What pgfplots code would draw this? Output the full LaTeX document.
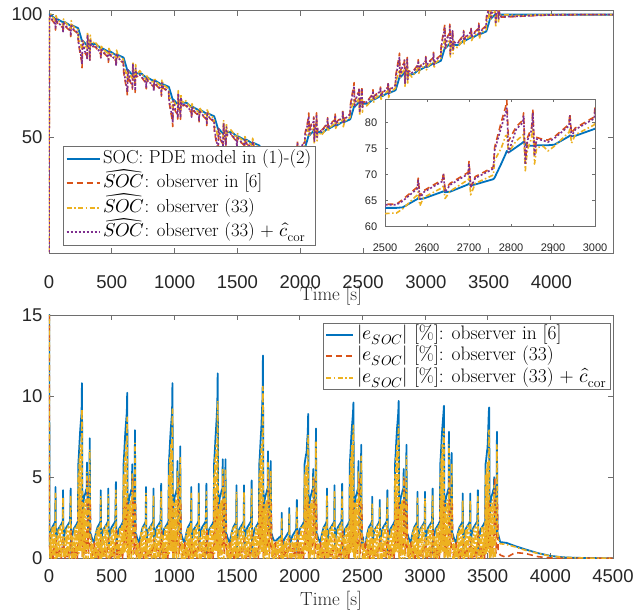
\documentclass[border=0pt]{standalone}
\usepackage{pgfplots}
\pgfplotsset{compat=1.18}
\usepackage{pgfplotstable}
\usepackage{fontspec}
\usepackage{unicode-math}
\setmathfont{Latin Modern Math}
\setsansfont{Liberation Sans}
\definecolor{mblue}{RGB}{0,114,189}
\definecolor{morange}{RGB}{217,83,25}
\definecolor{myellow}{RGB}{237,177,32}
\definecolor{mpurple}{RGB}{126,47,142}
\definecolor{axgray}{RGB}{38,38,38}
\definecolor{framegray}{RGB}{110,110,110}

% top panel: SOC and the three estimates
\pgfplotstableread{
t soc oa ob oc
0 100 3 3 3
3 100 98.2 99.0 98.4
8 100 99.5 99.6 99.6
15 99.9 98.4 100.2 98.7
50 98.3 96.0 97.5 96.3
52 98.1 93.7 96.9 94.1
56 98.3 97.7 99.6 98.3
65 98.2 96.7 98.0 97.0
110 96.9 94.6 96.1 94.9
112 96.8 92.6 95.6 93.0
116 97.0 96.4 98.2 97.0
128 96.9 95.3 96.8 95.6
171 95.5 93.2 94.6 93.5
173 95.3 91.0 93.9 91.4
177 95.7 96.0 97.5 96.1
188 95.5 94.0 95.3 94.3
231 94.5 92.2 93.7 92.5
234 94.2 88.4 90.9 89.0
250 91.5 83.5 88.5 84.5
260 89.7 80.7 86.2 81.9
263 89.1 78.3 86.1 79.9
267 89.4 87.2 89.4 89.4
285 88.4 84.5 87.2 85.0
301 87.5 83.2 86.1 83.7
303 87.3 81.4 85.8 82.0
307 87.9 91.4 92.9 91.7
312 88.1 86.6 88.9 87.1
322 88.1 84.6 86.6 85.1
325 88.1 80.7 84.6 81.4
329 88.1 89.6 91.6 90.1
334 88.0 86.5 88.5 86.8
350 88.0 86.9 88.2 87.1
361 88.0 87.0 89.1 87.4
376 87.9 86.4 88.2 86.7
411 86.3 84.0 85.5 84.3
413 86.1 81.9 84.9 82.3
417 86.3 85.7 87.6 86.3
426 86.2 84.7 86.0 85.0
471 84.9 82.6 84.1 82.9
473 84.8 80.5 83.6 80.9
477 85.0 84.4 86.2 85.0
489 84.9 83.3 84.8 83.6
532 83.5 81.2 82.6 81.5
534 83.3 78.6 81.9 79.1
538 83.7 84.0 85.5 84.1
549 83.5 82.0 83.3 82.3
592 82.5 80.2 81.7 80.5
595 82.2 76.4 78.9 77.0
611 79.5 71.5 76.5 72.5
621 77.7 68.7 74.2 69.9
624 77.1 66.9 74.1 68.4
628 77.4 75.2 77.4 77.4
646 76.4 72.5 75.2 73.0
662 75.5 71.2 74.1 71.7
664 75.3 69.5 73.8 70.1
668 75.9 79.4 80.9 79.7
673 76.1 74.6 76.9 75.1
683 76.1 72.6 74.6 73.1
686 76.1 68.2 72.6 69.0
690 76.1 77.6 79.6 78.1
695 76.0 74.5 76.5 74.8
711 76.0 74.9 76.2 75.1
722 76.0 75.0 77.1 75.4
737 75.9 74.4 76.2 74.7
772 74.3 72.0 73.5 72.3
774 74.1 69.7 72.9 70.1
778 74.3 73.7 75.6 74.3
787 74.2 72.7 74.0 73.0
832 72.9 70.6 72.1 70.9
834 72.8 68.5 71.6 68.9
838 73.0 72.4 74.2 73.0
850 72.9 71.3 72.8 71.6
893 71.5 69.2 70.6 69.5
895 71.3 66.7 69.9 67.2
899 71.7 72.0 73.5 72.1
910 71.5 70.0 71.3 70.3
953 70.5 68.2 69.7 68.5
956 70.2 64.4 66.9 65.0
972 67.5 59.5 64.5 60.5
982 65.7 56.7 62.2 57.9
985 65.1 54.3 62.1 55.9
989 65.4 63.2 65.4 65.4
1007 64.4 60.5 63.2 61.0
1023 63.5 59.2 62.1 59.7
1025 63.3 57.3 61.8 57.9
1029 63.9 67.4 68.9 67.7
1034 64.1 62.6 64.9 63.1
1044 64.1 60.6 62.6 61.1
1047 64.1 57.2 60.6 57.9
1051 64.1 65.6 67.6 66.1
1056 64.0 62.5 64.5 62.8
1072 64.0 62.9 64.2 63.1
1083 64.0 63.0 65.1 63.4
1098 63.9 62.4 64.2 62.7
1133 62.3 60.0 61.5 60.3
1135 62.1 57.7 60.9 58.1
1139 62.3 61.7 63.6 62.3
1148 62.2 60.7 62.0 61.0
1193 60.9 58.6 60.1 58.9
1195 60.8 56.2 59.6 56.7
1199 61.0 60.4 62.2 61.0
1211 60.9 59.3 60.8 59.6
1254 59.5 57.2 58.6 57.5
1256 59.3 54.7 57.9 55.2
1260 59.7 60.0 61.5 60.1
1271 59.5 58.0 59.3 58.3
1314 58.5 56.2 57.7 56.5
1317 58.2 52.4 54.9 53.0
1333 55.5 47.5 52.5 48.5
1343 53.7 44.2 50.2 45.7
1346 53.1 41.7 50.1 43.4
1350 53.4 51.2 53.4 53.4
1368 52.4 48.5 51.2 49.0
1384 51.5 47.2 50.1 47.7
1386 51.3 45.2 49.8 45.8
1390 51.9 55.4 56.9 55.7
1395 52.1 50.6 52.9 51.1
1405 52.1 48.6 50.6 49.1
1408 52.1 46.0 48.6 46.6
1412 52.1 53.6 55.6 54.1
1417 52.0 50.5 52.5 50.8
1433 52.0 50.9 52.2 51.1
1444 52.0 51.0 53.1 51.4
1459 51.9 50.4 52.2 50.7
1494 50.3 48.0 49.5 48.3
1496 50.1 45.6 48.9 46.0
1500 50.3 49.7 51.6 50.3
1509 50.2 48.7 50.0 49.0
1554 48.9 46.6 48.1 46.9
1556 48.8 44.3 47.6 44.7
1560 49.0 48.4 50.2 49.0
1572 48.9 47.3 48.8 47.6
1615 47.5 45.2 46.6 45.5
1617 47.3 42.5 45.9 43.0
1621 47.7 48.0 49.5 48.1
1632 47.5 46.0 47.3 46.3
1675 46.5 44.2 45.7 44.5
1678 46.2 40.4 42.9 41.0
1694 43.5 35.5 40.5 36.5
1704 41.7 31.7 38.2 33.1
1707 41.1 28.6 38.1 30.5
1711 41.4 39.2 41.4 41.4
1729 40.4 36.5 39.2 37.0
1745 39.5 35.2 38.1 35.7
1747 39.3 32.7 37.8 33.4
1751 39.9 43.4 44.9 43.7
1756 40.1 38.6 40.9 39.1
1766 40.1 36.6 38.6 37.1
1769 40.1 34.1 36.6 34.7
1773 40.1 41.6 43.6 42.1
1778 40.0 38.5 40.5 38.8
1794 40.0 38.9 40.2 39.1
1805 40.0 41.1 38.9 40.6
1820 40.1 41.2 39.8 41.0
1855 41.7 43.1 42.5 42.9
1857 41.9 44.7 43.1 44.4
1861 41.7 42.3 40.4 41.7
1870 41.8 42.9 42.0 42.7
1915 43.1 44.7 43.9 44.5
1917 43.2 46.3 44.4 46.0
1921 43.0 43.6 41.8 43.0
1933 43.1 44.3 43.2 44.1
1976 44.5 46.3 45.4 46.1
1978 44.7 48.3 46.1 47.9
1982 44.3 44.0 42.5 43.9
1993 44.5 46.0 44.7 45.7
2036 45.5 47.8 46.3 47.5
2039 45.8 51.6 49.1 51.0
2055 48.5 55.0 51.5 54.3
2065 50.3 58.1 53.8 57.1
2068 50.9 59.8 53.9 58.5
2072 50.6 52.8 50.6 50.6
2090 51.6 55.5 52.8 55.0
2106 52.5 56.8 53.9 56.3
2108 52.7 58.2 54.2 57.7
2112 52.1 48.6 47.1 48.3
2117 51.9 53.4 51.1 52.9
2127 51.9 55.4 53.4 54.9
2130 51.9 59.9 55.4 59.1
2134 51.9 50.4 48.4 49.9
2139 52.0 53.5 51.5 53.2
2155 52.0 53.1 51.8 52.9
2166 51.7 52.7 50.6 52.3
2181 51.8 53.3 51.5 53.0
2216 53.4 55.7 54.2 55.4
2218 53.6 57.9 54.8 57.5
2222 53.4 54.0 52.1 53.4
2231 53.5 55.0 53.7 54.7
2276 54.8 57.1 55.6 56.8
2278 54.9 59.4 56.1 59.0
2282 54.7 55.3 53.5 54.7
2294 54.8 56.4 54.9 56.1
2337 56.2 58.5 57.1 58.2
2339 56.4 61.0 57.8 60.5
2343 56.0 55.7 54.2 55.6
2354 56.2 57.7 56.4 57.4
2397 57.2 59.5 58.0 59.2
2400 57.5 63.3 60.8 62.7
2416 60.2 68.2 63.2 67.2
2426 62.0 71.0 65.5 69.8
2429 62.6 72.2 65.6 70.8
2433 62.3 64.5 62.3 62.3
2451 63.3 67.2 64.5 66.7
2467 64.2 68.5 65.6 68.0
2469 64.4 70.4 65.9 69.8
2473 63.8 60.3 58.8 60.0
2478 63.6 65.1 62.8 64.6
2488 63.6 67.1 65.1 66.6
2491 63.6 70.6 67.1 69.9
2495 63.6 62.1 60.1 61.6
2500 63.6 64.3 62.5 64.2
2516 63.6 64.3 62.6 64.2
2527 63.6 64.3 62.6 64.2
2542 63.7 65.2 63.4 64.9
2577 65.3 67.6 66.1 67.3
2579 65.5 69.3 66.7 68.9
2583 65.3 65.9 64.0 65.3
2592 65.4 66.9 65.6 66.6
2637 66.7 69.0 67.5 68.7
2639 66.8 70.4 68.0 70.0
2643 66.6 67.2 65.4 66.6
2655 66.7 68.3 66.8 68.0
2698 68.1 70.4 69.0 70.1
2700 68.3 72.5 69.7 72.1
2704 67.9 67.6 66.1 67.5
2715 68.1 69.6 68.3 69.3
2758 69.1 71.4 69.9 71.1
2761 69.4 75.2 72.7 74.6
2777 72.1 80.1 75.1 79.1
2787 73.9 82.9 77.4 81.7
2790 74.5 84.2 77.5 82.7
2794 74.2 76.4 74.2 74.2
2812 75.2 79.1 76.4 78.6
2828 76.1 80.4 77.5 79.9
2830 76.3 81.8 77.8 81.3
2834 75.7 72.2 70.7 71.9
2839 75.5 77.0 74.7 76.5
2849 75.5 79.0 77.0 78.5
2852 75.5 82.5 79.0 81.8
2856 75.5 74.0 72.0 73.5
2861 75.6 77.1 75.1 76.8
2877 75.6 76.7 75.4 76.5
2888 75.6 76.6 74.5 76.2
2903 75.7 77.2 75.4 76.9
2938 77.3 79.6 78.1 79.3
2940 77.5 81.6 78.7 81.2
2944 77.3 77.9 76.0 77.3
2953 77.4 78.9 77.6 78.6
2998 78.7 81.0 79.5 80.7
3000 78.8 82.9 80.0 82.5
3004 78.6 79.2 77.4 78.6
3016 78.7 80.3 78.8 80.0
3059 80.1 82.4 81.0 82.1
3061 80.3 84.6 81.7 84.2
3065 79.9 79.6 78.1 79.5
3076 80.1 81.6 80.3 81.3
3119 81.1 83.4 81.9 83.1
3122 81.4 87.2 84.7 86.6
3138 84.1 92.1 87.1 91.1
3148 85.9 94.9 89.4 93.7
3151 86.5 95.9 89.5 94.5
3155 86.2 88.4 86.2 86.2
3173 87.2 91.1 88.4 90.6
3189 88.1 92.4 89.5 91.9
3191 88.3 96.1 89.8 95.3
3195 87.7 84.2 82.7 83.9
3200 87.5 89.0 86.7 88.5
3210 87.5 91.0 89.0 90.5
3213 87.5 94.0 91.0 93.4
3217 87.5 86.0 84.0 85.5
3222 87.6 89.1 87.1 88.8
3238 87.6 88.7 87.4 88.5
3249 87.6 88.6 86.5 88.2
3264 87.7 89.2 87.4 88.9
3299 89.3 91.6 90.1 91.3
3301 89.5 93.5 90.7 93.1
3305 89.3 89.9 88.0 89.3
3314 89.4 90.9 89.6 90.6
3359 90.7 93.0 91.5 92.7
3361 90.8 94.8 92.0 94.4
3365 90.6 91.2 89.4 90.6
3377 90.7 92.3 90.8 92.0
3420 92.1 94.4 93.0 94.1
3422 92.3 96.5 93.7 96.1
3426 91.9 91.6 90.1 91.5
3437 92.1 93.6 92.3 93.3
3480 93.1 95.4 93.9 95.1
3483 93.4 99.2 96.7 98.6
3499 96.1 102.9 99.1 102.1
3509 97.9 106.9 101.4 105.7
3512 98.5 107.8 101.5 106.4
3516 98.2 100.4 98.2 98.2
3534 99.2 103.1 100.4 102.6
3550 99.9 104.2 101.3 103.7
3552 100.0 105.0 101.5 104.5
3556 100.0 96.5 95.0 96.2
3561 100.0 101.5 99.2 101.0
3571 100.0 103.5 101.5 103.0
3574 100.0 107.8 103.5 107.0
3578 100.0 98.5 96.5 98.0
3583 100.0 101.5 99.5 101.2
3600 100 99.0 99.8 99.1
3650 100 99.05 99.95 99.15
3720 100 99.25 99.65 99.3
3800 100 99.45 99.7 99.5
3900 100 99.68 99.9 99.7
4000 100 99.85 99.98 99.86
4100 100 99.94 100 99.94
4200 100 99.97 100 99.97
4350 100 99.99 100 99.99
4500 100 100 100 100
}\topdata

% bottom panel: absolute SOC errors
\pgfplotstableread{
t ea eb ec
0 97 97 97
3 1.8 1.0 1.6
8 0.5 0.4 0.0
12 1.5 0.6 1.6
18 1.7 0.1 0.0
25 1.9 0.5 1.9
32 2.0 0.0 0.2
40 2.1 0.6 2.0
46 2.2 0.2 0.0
50 2.3 0.8 2.1
52 4.4 1.2 4.0
56 0.6 1.3 0.0
60 1.3 0.3 1.2
66 1.6 0.0 0.0
74 1.8 0.6 1.8
82 1.9 0.1 0.1
90 2.0 0.6 2.0
98 2.1 0.0 0.0
105 2.2 0.7 2.1
110 2.3 0.8 2.0
112 4.2 1.2 3.8
116 0.6 1.2 0.0
122 1.4 0.2 1.3
130 1.7 0.0 0.0
138 1.9 0.6 1.8
146 2.0 0.1 0.1
154 2.1 0.6 2.0
162 2.2 0.0 0.0
168 2.3 0.8 2.1
173 4.3 1.4 3.9
177 0.3 1.8 0.4
182 1.2 0.2 0.0
188 1.5 0.6 1.4
196 1.8 0.0 0.0
204 1.9 0.6 1.9
212 2.0 0.1 0.0
220 2.1 0.7 2.0
226 2.2 0.0 0.2
231 2.3 0.8 2.0
234 5.8 3.3 5.2
238 6.3 0.5 0.3
242 6.9 3.8 6.2
246 7.5 1.0 0.5
250 8.0 3.0 7.0
255 8.5 0.8 0.4
260 9.0 3.5 7.8
263 10.8 3.0 9.2
267 2.2 0.0 0.0
272 3.3 1.5 3.0
277 3.6 0.2 0.0
281 3.8 1.2 3.4
285 3.9 0.4 0.3
290 4.0 1.3 3.6
295 4.2 0.3 0.0
301 4.3 1.4 3.8
303 5.9 1.5 5.3
307 3.5 5.0 3.8
312 1.5 0.8 0.0
317 2.8 0.3 2.6
322 3.5 1.5 3.0
325 7.4 3.5 6.7
329 1.5 3.5 2.0
334 1.5 0.5 0.0
340 1.3 0.1 1.1
345 1.2 0.5 0.0
350 1.1 0.2 0.9
356 1.0 0.6 0.0
361 1.0 1.1 0.6
367 1.3 0.2 0.0
373 1.5 0.6 1.6
379 1.7 0.1 0.0
386 1.9 0.5 1.9
393 2.0 0.0 0.2
401 2.1 0.6 2.0
407 2.2 0.2 0.0
411 2.3 0.8 2.1
413 4.2 1.2 3.8
417 0.6 1.3 0.0
421 1.3 0.3 1.2
427 1.6 0.0 0.0
435 1.8 0.6 1.8
443 1.9 0.1 0.1
451 2.0 0.6 2.0
459 2.1 0.0 0.0
466 2.2 0.7 2.1
471 2.3 0.8 2.0
473 4.3 1.2 3.9
477 0.6 1.2 0.0
483 1.4 0.2 1.3
491 1.7 0.0 0.0
499 1.9 0.6 1.8
507 2.0 0.1 0.1
515 2.1 0.6 2.0
523 2.2 0.0 0.0
529 2.3 0.8 2.1
534 4.7 1.4 4.2
538 0.3 1.8 0.4
543 1.2 0.2 0.0
549 1.5 0.6 1.4
557 1.8 0.0 0.0
565 1.9 0.6 1.9
573 2.0 0.1 0.0
581 2.1 0.7 2.0
587 2.2 0.0 0.2
592 2.3 0.8 2.0
595 5.8 3.3 5.2
599 6.3 0.5 0.3
603 6.9 3.8 6.2
607 7.5 1.0 0.5
611 8.0 3.0 7.0
616 8.5 0.8 0.4
621 9.0 3.5 7.8
624 10.2 3.0 8.7
628 2.2 0.0 0.0
633 3.3 1.5 3.0
638 3.6 0.2 0.0
642 3.8 1.2 3.4
646 3.9 0.4 0.3
651 4.0 1.3 3.6
656 4.2 0.3 0.0
662 4.3 1.4 3.8
664 5.8 1.5 5.2
668 3.5 5.0 3.8
673 1.5 0.8 0.0
678 2.8 0.3 2.6
683 3.5 1.5 3.0
686 7.9 3.5 7.1
690 1.5 3.5 2.0
695 1.5 0.5 0.0
701 1.3 0.1 1.1
706 1.2 0.5 0.0
711 1.1 0.2 0.9
717 1.0 0.6 0.0
722 1.0 1.1 0.6
728 1.3 0.2 0.0
734 1.5 0.6 1.6
740 1.7 0.1 0.0
747 1.9 0.5 1.9
754 2.0 0.0 0.2
762 2.1 0.6 2.0
768 2.2 0.2 0.0
772 2.3 0.8 2.1
774 4.4 1.2 4.0
778 0.6 1.3 0.0
782 1.3 0.3 1.2
788 1.6 0.0 0.0
796 1.8 0.6 1.8
804 1.9 0.1 0.1
812 2.0 0.6 2.0
820 2.1 0.0 0.0
827 2.2 0.7 2.1
832 2.3 0.8 2.0
834 4.3 1.2 3.9
838 0.6 1.2 0.0
844 1.4 0.2 1.3
852 1.7 0.0 0.0
860 1.9 0.6 1.8
868 2.0 0.1 0.1
876 2.1 0.6 2.0
884 2.2 0.0 0.0
890 2.3 0.8 2.1
895 4.6 1.4 4.1
899 0.3 1.8 0.4
904 1.2 0.2 0.0
910 1.5 0.6 1.4
918 1.8 0.0 0.0
926 1.9 0.6 1.9
934 2.0 0.1 0.0
942 2.1 0.7 2.0
948 2.2 0.0 0.2
953 2.3 0.8 2.0
956 5.8 3.3 5.2
960 6.3 0.5 0.3
964 6.9 3.8 6.2
968 7.5 1.0 0.5
972 8.0 3.0 7.0
977 8.5 0.8 0.4
982 9.0 3.5 7.8
985 10.8 3.0 9.2
989 2.2 0.0 0.0
994 3.3 1.5 3.0
999 3.6 0.2 0.0
1003 3.8 1.2 3.4
1007 3.9 0.4 0.3
1012 4.0 1.3 3.6
1017 4.2 0.3 0.0
1023 4.3 1.4 3.8
1025 6.0 1.5 5.4
1029 3.5 5.0 3.8
1034 1.5 0.8 0.0
1039 2.8 0.3 2.6
1044 3.5 1.5 3.0
1047 6.9 3.5 6.2
1051 1.5 3.5 2.0
1056 1.5 0.5 0.0
1062 1.3 0.1 1.1
1067 1.2 0.5 0.0
1072 1.1 0.2 0.9
1078 1.0 0.6 0.0
1083 1.0 1.1 0.6
1089 1.3 0.2 0.0
1095 1.5 0.6 1.6
1101 1.7 0.1 0.0
1108 1.9 0.5 1.9
1115 2.0 0.0 0.2
1123 2.1 0.6 2.0
1129 2.2 0.2 0.0
1133 2.3 0.8 2.1
1135 4.4 1.2 4.0
1139 0.6 1.3 0.0
1143 1.3 0.3 1.2
1149 1.6 0.0 0.0
1157 1.8 0.6 1.8
1165 1.9 0.1 0.1
1173 2.0 0.6 2.0
1181 2.1 0.0 0.0
1188 2.2 0.7 2.1
1193 2.3 0.8 2.0
1195 4.6 1.2 4.1
1199 0.6 1.2 0.0
1205 1.4 0.2 1.3
1213 1.7 0.0 0.0
1221 1.9 0.6 1.8
1229 2.0 0.1 0.1
1237 2.1 0.6 2.0
1245 2.2 0.0 0.0
1251 2.3 0.8 2.1
1256 4.6 1.4 4.1
1260 0.3 1.8 0.4
1265 1.2 0.2 0.0
1271 1.5 0.6 1.4
1279 1.8 0.0 0.0
1287 1.9 0.6 1.9
1295 2.0 0.1 0.0
1303 2.1 0.7 2.0
1309 2.2 0.0 0.2
1314 2.3 0.8 2.0
1317 5.8 3.3 5.2
1321 6.3 0.5 0.3
1325 6.9 3.8 6.2
1329 7.5 1.0 0.5
1333 8.0 3.0 7.0
1338 8.7 0.8 0.4
1343 9.5 3.5 8.0
1346 11.4 3.0 9.7
1350 2.2 0.0 0.0
1355 3.3 1.5 3.0
1360 3.6 0.2 0.0
1364 3.8 1.2 3.4
1368 3.9 0.4 0.3
1373 4.0 1.3 3.6
1378 4.2 0.3 0.0
1384 4.3 1.4 3.8
1386 6.1 1.5 5.5
1390 3.5 5.0 3.8
1395 1.5 0.8 0.0
1400 2.8 0.3 2.6
1405 3.5 1.5 3.0
1408 6.1 3.5 5.5
1412 1.5 3.5 2.0
1417 1.5 0.5 0.0
1423 1.3 0.1 1.1
1428 1.2 0.5 0.0
1433 1.1 0.2 0.9
1439 1.0 0.6 0.0
1444 1.0 1.1 0.6
1450 1.3 0.2 0.0
1456 1.5 0.6 1.6
1462 1.7 0.1 0.0
1469 1.9 0.5 1.9
1476 2.0 0.0 0.2
1484 2.1 0.6 2.0
1490 2.2 0.2 0.0
1494 2.3 0.8 2.1
1496 4.5 1.2 4.1
1500 0.6 1.3 0.0
1504 1.3 0.3 1.2
1510 1.6 0.0 0.0
1518 1.8 0.6 1.8
1526 1.9 0.1 0.1
1534 2.0 0.6 2.0
1542 2.1 0.0 0.0
1549 2.2 0.7 2.1
1554 2.3 0.8 2.0
1556 4.5 1.2 4.1
1560 0.6 1.2 0.0
1566 1.4 0.2 1.3
1574 1.7 0.0 0.0
1582 1.9 0.6 1.8
1590 2.0 0.1 0.1
1598 2.1 0.6 2.0
1606 2.2 0.0 0.0
1612 2.3 0.8 2.1
1617 4.8 1.4 4.3
1621 0.3 1.8 0.4
1626 1.2 0.2 0.0
1632 1.5 0.6 1.4
1640 1.8 0.0 0.0
1648 1.9 0.6 1.9
1656 2.0 0.1 0.0
1664 2.1 0.7 2.0
1670 2.2 0.0 0.2
1675 2.3 0.8 2.0
1678 5.8 3.3 5.2
1682 6.3 0.5 0.3
1686 6.9 3.8 6.2
1690 7.5 1.0 0.5
1694 8.0 3.0 7.0
1699 9.0 0.8 0.4
1704 10.0 3.5 8.6
1707 12.5 3.0 10.6
1711 2.2 0.0 0.0
1716 3.3 1.5 3.0
1721 3.6 0.2 0.0
1725 3.8 1.2 3.4
1729 3.9 0.4 0.3
1734 4.0 1.3 3.6
1739 4.2 0.3 0.0
1745 4.3 1.4 3.8
1747 6.6 1.5 5.9
1751 3.5 5.0 3.8
1756 1.5 0.8 0.0
1761 2.8 0.3 2.6
1766 3.5 1.5 3.0
1769 6.0 3.5 5.4
1773 1.5 3.5 2.0
1778 1.5 0.5 0.0
1784 1.3 0.1 1.1
1789 1.2 0.5 0.0
1794 1.1 0.2 0.9
1800 1.1 0.6 0.0
1805 1.1 1.1 0.6
1811 1.1 0.2 0.0
1817 1.1 0.6 1.0
1823 1.2 0.1 0.0
1830 1.2 0.5 1.1
1837 1.3 0.0 0.1
1845 1.3 0.6 1.2
1851 1.4 0.2 0.0
1855 1.4 0.8 1.3
1857 2.8 1.2 2.5
1861 0.6 1.3 0.0
1865 0.9 0.3 0.8
1871 1.0 0.0 0.0
1879 1.2 0.6 1.1
1887 1.3 0.1 0.1
1895 1.4 0.6 1.2
1903 1.5 0.0 0.0
1910 1.6 0.7 1.4
1915 1.6 0.8 1.4
1917 3.1 1.2 2.8
1921 0.6 1.2 0.0
1927 1.0 0.2 0.9
1935 1.2 0.0 0.0
1943 1.4 0.6 1.2
1951 1.5 0.1 0.1
1959 1.6 0.6 1.4
1967 1.7 0.0 0.0
1973 1.8 0.8 1.6
1978 3.6 1.4 3.2
1982 0.3 1.8 0.4
1987 1.2 0.2 0.0
1993 1.5 0.6 1.4
2001 1.8 0.0 0.0
2009 1.9 0.6 1.9
2017 2.0 0.1 0.0
2025 2.1 0.7 2.0
2031 2.2 0.0 0.2
2036 2.3 0.8 2.0
2039 5.8 3.3 5.2
2043 6.0 0.5 0.3
2047 6.2 3.8 5.6
2051 6.4 1.0 0.5
2055 6.5 3.0 5.8
2060 7.2 0.8 0.4
2065 7.8 3.5 6.8
2068 8.9 3.0 7.6
2072 2.2 0.0 0.0
2077 3.3 1.5 3.0
2082 3.6 0.2 0.0
2086 3.8 1.2 3.4
2090 3.9 0.4 0.3
2095 4.0 1.3 3.6
2100 4.2 0.3 0.0
2106 4.3 1.4 3.8
2108 5.5 1.5 5.0
2112 3.5 5.0 3.8
2117 1.5 0.8 0.0
2122 2.8 0.3 2.6
2127 3.5 1.5 3.0
2130 8.0 3.5 7.2
2134 1.5 3.5 2.0
2139 1.5 0.5 0.0
2145 1.3 0.1 1.1
2150 1.2 0.5 0.0
2155 1.1 0.2 0.9
2161 1.0 0.6 0.0
2166 1.0 1.1 0.6
2172 1.3 0.2 0.0
2178 1.5 0.6 1.6
2184 1.7 0.1 0.0
2191 1.9 0.5 1.9
2198 2.0 0.0 0.2
2206 2.1 0.6 2.0
2212 2.2 0.2 0.0
2216 2.3 0.8 2.1
2218 4.3 1.2 3.9
2222 0.6 1.3 0.0
2226 1.3 0.3 1.2
2232 1.6 0.0 0.0
2240 1.8 0.6 1.8
2248 1.9 0.1 0.1
2256 2.0 0.6 2.0
2264 2.1 0.0 0.0
2271 2.2 0.7 2.1
2276 2.3 0.8 2.0
2278 4.5 1.2 4.1
2282 0.6 1.2 0.0
2288 1.4 0.2 1.3
2296 1.7 0.0 0.0
2304 1.9 0.6 1.8
2312 2.0 0.1 0.1
2320 2.1 0.6 2.0
2328 2.2 0.0 0.0
2334 2.3 0.8 2.1
2339 4.6 1.4 4.1
2343 0.3 1.8 0.4
2348 1.2 0.2 0.0
2354 1.5 0.6 1.4
2362 1.8 0.0 0.0
2370 1.9 0.6 1.9
2378 2.0 0.1 0.0
2386 2.1 0.7 2.0
2392 2.2 0.0 0.2
2397 2.3 0.8 2.0
2400 5.8 3.3 5.2
2404 6.3 0.5 0.3
2408 6.9 3.8 6.2
2412 7.5 1.0 0.5
2416 8.0 3.0 7.0
2421 8.5 0.8 0.4
2426 9.0 3.5 7.8
2429 9.6 3.0 8.2
2433 2.2 0.0 0.0
2438 3.3 1.5 3.0
2443 3.6 0.2 0.0
2447 3.8 1.2 3.4
2451 3.9 0.4 0.3
2456 4.0 1.3 3.6
2461 4.2 0.3 0.0
2467 4.3 1.4 3.8
2469 6.0 1.5 5.4
2473 3.5 5.0 3.8
2478 1.5 0.8 0.0
2483 2.8 0.3 2.6
2488 3.5 1.5 3.0
2491 7.0 3.5 6.3
2495 1.5 3.5 2.0
2500 0.7 1.1 0.0
2506 1.3 0.1 1.1
2511 0.7 0.5 0.0
2516 0.7 1.0 0.6
2522 0.7 0.6 0.0
2527 0.7 1.0 0.6
2533 1.3 0.2 0.0
2539 1.5 0.6 1.6
2545 1.7 0.1 0.0
2552 1.9 0.5 1.9
2559 2.0 0.0 0.2
2567 2.1 0.6 2.0
2573 2.2 0.2 0.0
2577 2.3 0.8 2.1
2579 3.8 1.2 3.4
2583 0.6 1.3 0.0
2587 1.3 0.3 1.2
2593 1.6 0.0 0.0
2601 1.8 0.6 1.8
2609 1.9 0.1 0.1
2617 2.0 0.6 2.0
2625 2.1 0.0 0.0
2632 2.2 0.7 2.1
2637 2.3 0.8 2.0
2639 3.6 1.2 3.2
2643 0.6 1.2 0.0
2649 1.4 0.2 1.3
2657 1.7 0.0 0.0
2665 1.9 0.6 1.8
2673 2.0 0.1 0.1
2681 2.1 0.6 2.0
2689 2.2 0.0 0.0
2695 2.3 0.8 2.1
2700 4.2 1.4 3.8
2704 0.3 1.8 0.4
2709 1.2 0.2 0.0
2715 1.5 0.6 1.4
2723 1.8 0.0 0.0
2731 1.9 0.6 1.9
2739 2.0 0.1 0.0
2747 2.1 0.7 2.0
2753 2.2 0.0 0.2
2758 2.3 0.8 2.0
2761 5.8 3.3 5.2
2765 6.3 0.5 0.3
2769 6.9 3.8 6.2
2773 7.5 1.0 0.5
2777 8.0 3.0 7.0
2782 8.5 0.8 0.4
2787 9.0 3.5 7.8
2790 9.7 3.0 8.2
2794 2.2 0.0 0.0
2799 3.3 1.5 3.0
2804 3.6 0.2 0.0
2808 3.8 1.2 3.4
2812 3.9 0.4 0.3
2817 4.0 1.3 3.6
2822 4.2 0.3 0.0
2828 4.3 1.4 3.8
2830 5.5 1.5 5.0
2834 3.5 5.0 3.8
2839 1.5 0.8 0.0
2844 2.8 0.3 2.6
2849 3.5 1.5 3.0
2852 7.0 3.5 6.3
2856 1.5 3.5 2.0
2861 1.5 0.5 0.0
2867 1.3 0.1 1.1
2872 1.2 0.5 0.0
2877 1.1 0.2 0.9
2883 1.0 0.6 0.0
2888 1.0 1.1 0.6
2894 1.3 0.2 0.0
2900 1.5 0.6 1.6
2906 1.7 0.1 0.0
2913 1.9 0.5 1.9
2920 2.0 0.0 0.2
2928 2.1 0.6 2.0
2934 2.2 0.2 0.0
2938 2.3 0.8 2.1
2940 4.1 1.2 3.7
2944 0.6 1.3 0.0
2948 1.3 0.3 1.2
2954 1.6 0.0 0.0
2962 1.8 0.6 1.8
2970 1.9 0.1 0.1
2978 2.0 0.6 2.0
2986 2.1 0.0 0.0
2993 2.2 0.7 2.1
2998 2.3 0.8 2.0
3000 4.1 1.2 3.7
3004 0.6 1.2 0.0
3010 1.4 0.2 1.3
3018 1.7 0.0 0.0
3026 1.9 0.6 1.8
3034 2.0 0.1 0.1
3042 2.1 0.6 2.0
3050 2.2 0.0 0.0
3056 2.3 0.8 2.1
3061 4.3 1.4 3.9
3065 0.3 1.8 0.4
3070 1.2 0.2 0.0
3076 1.5 0.6 1.4
3084 1.8 0.0 0.0
3092 1.9 0.6 1.9
3100 2.0 0.1 0.0
3108 2.1 0.7 2.0
3114 2.2 0.0 0.2
3119 2.3 0.8 2.0
3122 5.8 3.3 5.2
3126 6.3 0.5 0.3
3130 6.9 3.8 6.2
3134 7.5 1.0 0.5
3138 8.0 3.0 7.0
3143 8.5 0.8 0.4
3148 9.0 3.5 7.8
3151 9.4 3.0 8.0
3155 2.2 0.0 0.0
3160 3.3 1.5 3.0
3165 3.6 0.2 0.0
3169 3.8 1.2 3.4
3173 3.9 0.4 0.3
3178 4.0 1.3 3.6
3183 4.2 0.3 0.0
3189 4.3 1.4 3.8
3191 7.8 1.5 7.0
3195 3.5 5.0 3.8
3200 1.5 0.8 0.0
3205 2.8 0.3 2.6
3210 3.5 1.5 3.0
3213 6.5 3.5 5.9
3217 1.5 3.5 2.0
3222 1.5 0.5 0.0
3228 1.3 0.1 1.1
3233 1.2 0.5 0.0
3238 1.1 0.2 0.9
3244 1.0 0.6 0.0
3249 1.0 1.1 0.6
3255 1.3 0.2 0.0
3261 1.5 0.6 1.6
3267 1.7 0.1 0.0
3274 1.9 0.5 1.9
3281 2.0 0.0 0.2
3289 2.1 0.6 2.0
3295 2.2 0.2 0.0
3299 2.3 0.8 2.1
3301 4.0 1.2 3.6
3305 0.6 1.3 0.0
3309 1.3 0.3 1.2
3315 1.6 0.0 0.0
3323 1.8 0.6 1.8
3331 1.9 0.1 0.1
3339 2.0 0.6 2.0
3347 2.1 0.0 0.0
3354 2.2 0.7 2.1
3359 2.3 0.8 2.0
3361 4.0 1.2 3.6
3365 0.6 1.2 0.0
3371 1.4 0.2 1.3
3379 1.7 0.0 0.0
3387 1.9 0.6 1.8
3395 2.0 0.1 0.1
3403 2.1 0.6 2.0
3411 2.2 0.0 0.0
3417 2.3 0.8 2.1
3422 4.2 1.4 3.8
3426 0.3 1.8 0.4
3431 1.2 0.2 0.0
3437 1.5 0.6 1.4
3445 1.8 0.0 0.0
3453 1.9 0.6 1.9
3461 2.0 0.1 0.0
3469 2.1 0.7 2.0
3475 2.2 0.0 0.2
3480 2.3 0.8 2.0
3483 5.8 3.3 5.2
3487 6.0 0.5 0.3
3491 6.3 3.8 5.6
3495 6.6 1.0 0.5
3499 6.8 3.0 6.0
3504 7.8 0.8 0.4
3509 9.0 3.5 7.8
3512 9.3 3.0 7.9
3516 2.2 0.0 0.0
3521 3.3 1.5 3.0
3526 3.6 0.2 0.0
3530 3.8 1.2 3.4
3534 3.9 0.4 0.3
3539 4.0 1.3 3.6
3544 4.2 0.3 0.0
3550 4.3 1.4 3.8
3552 5.0 1.5 4.5
3556 3.5 5.0 3.8
3561 1.5 0.8 0.0
3566 2.8 0.3 2.6
3571 3.5 1.5 3.0
3574 7.8 3.5 7.0
3578 1.5 3.5 2.0
3583 1.5 0.5 1.2
3600 1.0 0.2 0.9
3650 0.95 0.05 0.85
3720 0.75 0.35 0.7
3800 0.55 0.3 0.5
3900 0.32 0.1 0.3
4000 0.15 0.02 0.14
4100 0.06 0.0 0.06
4200 0.03 0.0 0.03
4350 0.01 0.0 0.01
4500 0.0 0.0 0.0
}\botdata

\pgfplotsset{
  matlab/.style={
    scale only axis,
    axis line style={framegray, line width=0.8pt},
    tick style={framegray, line width=0.8pt},
    tick align=inside,
    xtick pos=both, ytick pos=both,
    xticklabel pos=bottom, yticklabel pos=left,
    major tick length=5pt,
    tick label style={font=\fontsize{18.5}{22}\selectfont\sffamily, text=axgray},
    /pgf/number format/assume math mode=true,
    /pgf/number format/1000 sep={},
    xticklabel style={yshift=-7.5pt},
    yticklabel style={xshift=-3pt},
    xlabel style={font=\fontsize{19}{23}\selectfont, text=axgray,
      at={(axis description cs:0.5,0)}, anchor=north, yshift=-29pt},
    legend cell align=left,
    every axis plot/.append style={line join=round},
  },
}

\begin{document}
\begin{tikzpicture}
\useasboundingbox (0,0) rectangle (640pt,612pt);

% ---------- top axis ----------
\begin{axis}[matlab,
  at={(49pt,358.7pt)}, anchor=south west,
  width=564pt, height=242.6pt,
  xmin=0, xmax=4490, ymin=2.5, ymax=101.6,
  xtick={0,500,...,4000}, ytick={50,100},
  xticklabel style={yshift=-11pt},
  xlabel={Time [s]},
  legend image code/.code={\draw[#1, line width=2pt] (0pt,0pt) -- (33pt,0pt);},
  legend style={at={(axis description cs:0.0254,0.4435)}, anchor=north west,
    draw=framegray, fill=white,
    font=\fontsize{18.7}{22}\selectfont,
    inner xsep=2pt, inner ysep=1pt, row sep=1pt, column sep=1pt,
    nodes={inner xsep=1.5pt, inner ysep=2pt, text height=14.5pt, text depth=5pt}},
]
\addplot[color=mblue, line width=1.8pt] table[x=t,y=soc]{\topdata};
\addlegendentry{SOC: PDE model in (1)-(2)}
\addplot[color=morange, line width=1.6pt, dash pattern=on 6pt off 4pt] table[x=t,y=oa]{\topdata};
\addlegendentry{$\widehat{SOC}$: observer in [6]}
\addplot[color=myellow, line width=1.6pt, dash pattern=on 5pt off 2.5pt on 1.5pt off 2.5pt] table[x=t,y=ob]{\topdata};
\addlegendentry{$\widehat{SOC}$: observer (33)}
\addplot[color=mpurple, line width=1.6pt, dash pattern=on 2pt off 2pt] table[x=t,y=oc]{\topdata};
\addlegendentry{$\widehat{SOC}$: observer (33) + $\hat{c}_{\mathrm{cor}}$}
\end{axis}

% ---------- inset ----------
\begin{axis}[matlab,
  at={(385pt,385.3pt)}, anchor=south west,
  width=210pt, height=127.4pt,
  xmin=2500, xmax=3000, ymin=60, ymax=84.4,
  xtick={2500,2600,...,3000}, ytick={60,65,...,80},
  major tick length=3pt,
  axis background/.style={fill=white},
  tick label style={font=\fontsize{11}{13}\selectfont\sffamily, text=axgray},
  xticklabel style={yshift=-6.3pt},
  yticklabel style={xshift=-1.3pt},
]
\addplot[color=mblue, line width=1.8pt] table[x=t,y=soc]{\topdata};
\addplot[color=morange, line width=1.6pt, dash pattern=on 6pt off 4pt] table[x=t,y=oa]{\topdata};
\addplot[color=myellow, line width=1.6pt, dash pattern=on 5pt off 2.5pt on 1.5pt off 2.5pt] table[x=t,y=ob]{\topdata};
\addplot[color=mpurple, line width=1.6pt, dash pattern=on 2pt off 2pt] table[x=t,y=oc]{\topdata};
\end{axis}

% ---------- bottom axis ----------
\begin{axis}[matlab,
  at={(49pt,53.7pt)}, anchor=south west,
  width=564pt, height=243.3pt,
  xmin=0, xmax=4500, ymin=0, ymax=15,
  xtick={0,500,...,4500}, ytick={0,5,10,15},
  xlabel={Time [s]},
  legend image code/.code={\draw[#1, line width=2pt] (0pt,0pt) -- (27pt,0pt);},
  legend style={at={(axis description cs:0.9947,0.9671)}, anchor=north east,
    draw=framegray, fill=white,
    font=\fontsize{19.5}{23}\selectfont,
    inner xsep=2pt, inner ysep=1.25pt, row sep=0.5pt, column sep=1.5pt,
    nodes={inner xsep=1.5pt, inner ysep=1pt, text height=14pt, text depth=5pt}},
]
\addplot[color=mblue, line width=1.8pt] table[x=t,y=ea]{\botdata};
\addlegendentry{$|e_{SOC}|$ [\%]: observer in [6]}
\addplot[color=morange, line width=1.6pt, dash pattern=on 6pt off 4pt] table[x=t,y=eb]{\botdata};
\addlegendentry{$|e_{SOC}|$ [\%]: observer (33)}
\addplot[color=myellow, line width=1.6pt, dash pattern=on 5pt off 2.5pt on 1.5pt off 2.5pt] table[x=t,y=ec]{\botdata};
\addlegendentry{$|e_{SOC}|$ [\%]: observer (33) + $\hat{c}_{\mathrm{cor}}$}
\end{axis}
\end{tikzpicture}
\end{document}
